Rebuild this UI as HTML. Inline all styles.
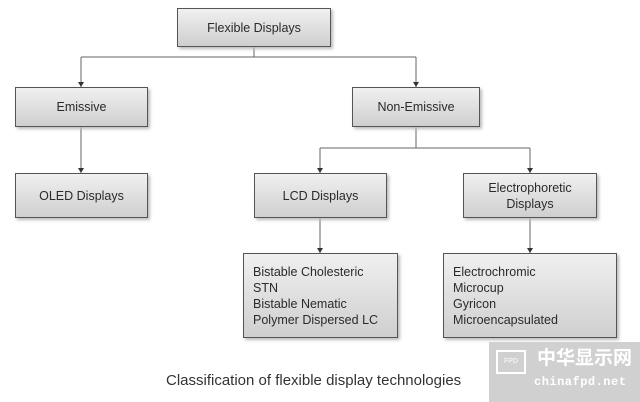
<!DOCTYPE html><html><head><style>
body{margin:0;width:640px;height:402px;background:#fff;position:relative;overflow:hidden;font-family:"Liberation Sans",sans-serif;color:#333}
.b{position:absolute;box-sizing:border-box;border:1.5px solid #555;background:linear-gradient(#f0f0f0,#cfcfcf);box-shadow:2px 2px 3px #bbb;display:flex;align-items:center;justify-content:center;text-align:center;font-size:12.5px;line-height:16px;color:#2a2a2a}
.l{justify-content:flex-start;align-items:flex-start;text-align:left;padding:10px 0 0 9px}
svg{position:absolute;left:0;top:0}
</style></head><body>
<svg width="640" height="402"><g stroke="#666" stroke-width="1" fill="none">
<path d="M254 47V57M81 57H416M81 57V87M416 57V87M416 127V148M320 148H530M320 148V173M530 148V173M81 127V173M320 218V253M530 218V253"/></g>
<g fill="#333"><path d="M78 82h6l-3 5zM413 82h6l-3 5zM317 168h6l-3 5zM527 168h6l-3 5zM78 168h6l-3 5zM317 248h6l-3 5zM527 248h6l-3 5z"/></g></svg>
<div class="b" style="left:177px;top:8px;width:154px;height:39px">Flexible Displays</div>
<div class="b" style="left:15px;top:87px;width:133px;height:40px">Emissive</div>
<div class="b" style="left:352px;top:87px;width:128px;height:40px">Non-Emissive</div>
<div class="b" style="left:15px;top:173px;width:133px;height:45px">OLED Displays</div>
<div class="b" style="left:254px;top:173px;width:133px;height:45px">LCD Displays</div>
<div class="b" style="left:463px;top:173px;width:134px;height:45px">Electrophoretic<br>Displays</div>
<div class="b l" style="left:243px;top:253px;width:155px;height:85px">Bistable Cholesteric<br>STN<br>Bistable Nematic<br>Polymer Dispersed LC</div>
<div class="b l" style="left:443px;top:253px;width:174px;height:85px">Electrochromic<br>Microcup<br>Gyricon<br>Microencapsulated</div>
<div style="position:absolute;left:166px;top:372px;font-size:15px;color:#333;white-space:nowrap">Classification of flexible display technologies</div>
<div style="position:absolute;left:489px;top:342px;width:151px;height:60px;background:#c8c8c8;opacity:.85"></div>
<div style="position:absolute;left:537px;top:345px;font-family:'Noto Sans CJK SC',sans-serif;font-size:19px;line-height:24px;font-weight:bold;color:#fff;white-space:nowrap">中华显示网</div>
<div style="position:absolute;left:534px;top:375px;font-family:'Liberation Mono',monospace;font-size:12px;font-weight:bold;color:#fff;letter-spacing:0.5px;white-space:nowrap">chinafpd.net</div>
<div style="position:absolute;left:496px;top:350px;width:26px;height:20px;border:2px solid #fff;color:#fff;font-size:7px;text-align:center;line-height:20px">FPD</div>
</body></html>
